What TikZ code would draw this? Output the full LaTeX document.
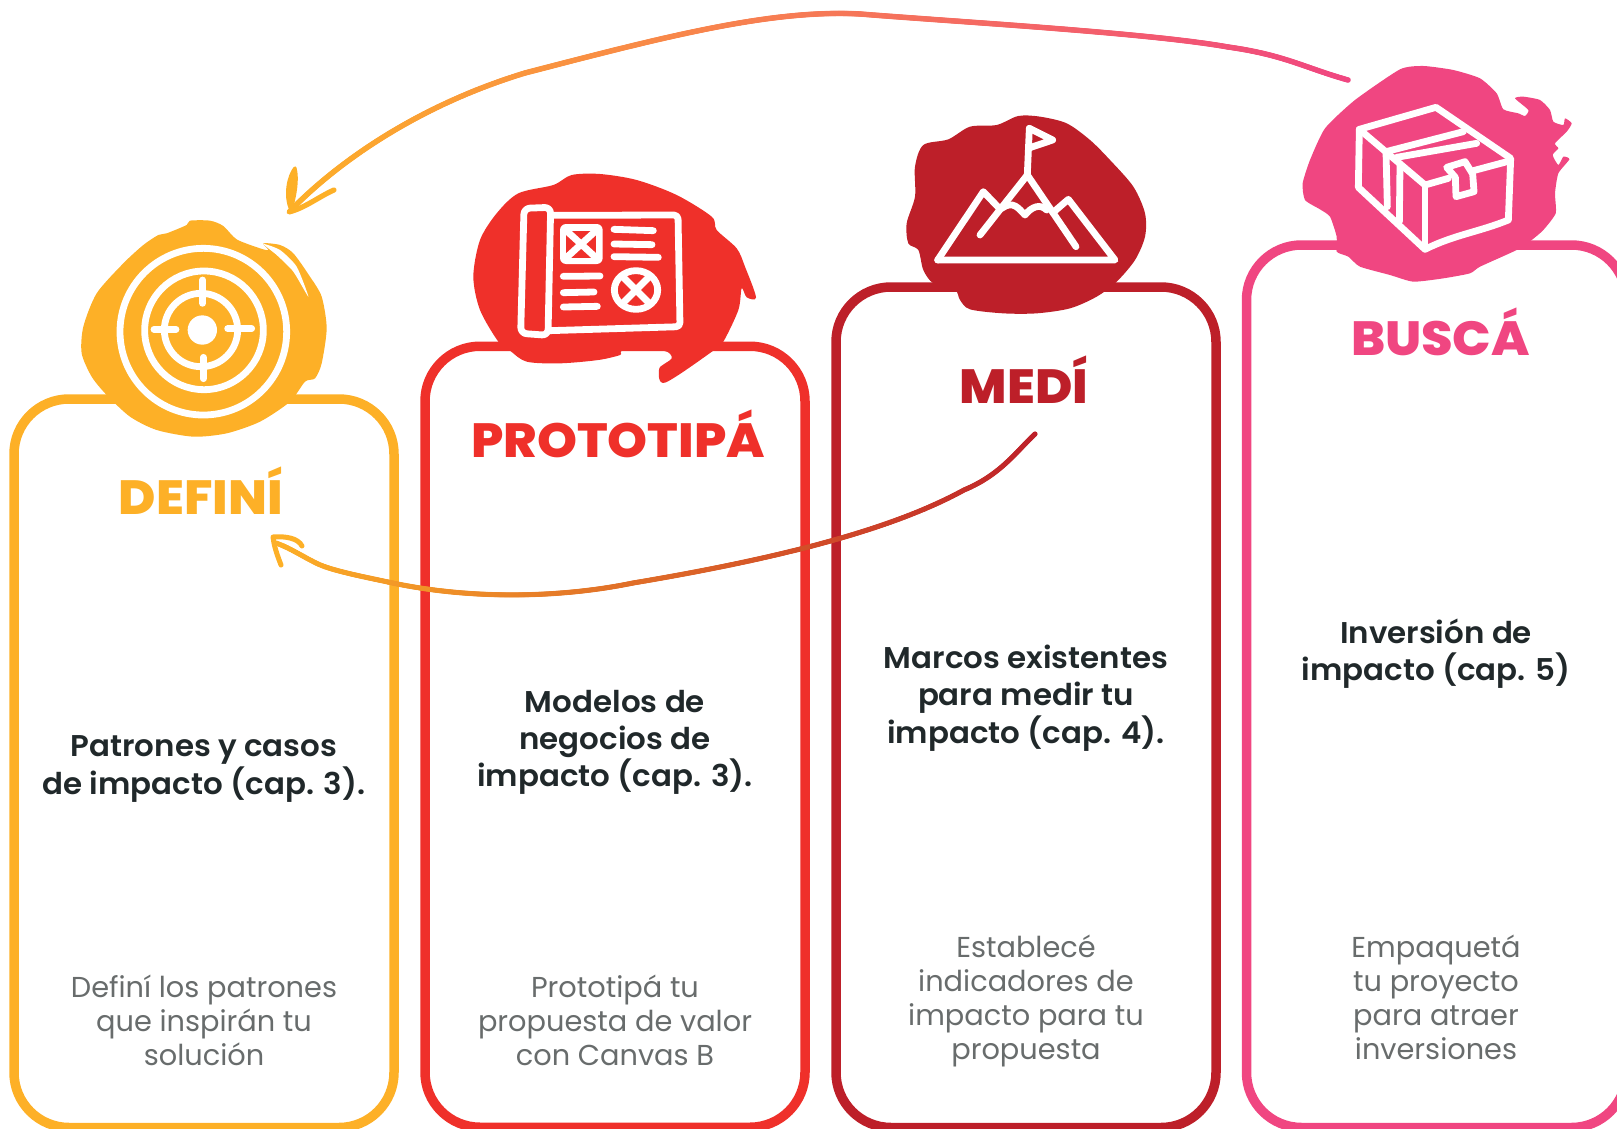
\documentclass[tikz,border=0pt]{standalone}
\usepackage{fontspec}
\setmainfont{Poppins}[BoldFont={Poppins SemiBold},BoldFeatures={FakeStretch=1.03}]
\newfontfamily\titlefont{Poppins ExtraBold}[FakeStretch=1.06]
\usepackage{xcolor}
\usetikzlibrary{positioning,decorations.markings}
\definecolor{cDefini}{HTML}{FDB027}
\definecolor{cProto}{HTML}{EF302A}
\definecolor{cMedi}{HTML}{BD1F29}
\definecolor{cBusca}{HTML}{F04681}
\definecolor{cLead}{HTML}{20282A}
\definecolor{cBody}{HTML}{686C6C}
\begin{document}
\begin{tikzpicture}[x=0.5pt,y=-0.5pt,line join=round,line cap=round,
	main box/.style={rectangle,rounded corners=27.5pt,draw=#1,line width=4.75pt,outer sep=0pt,inner sep=0pt,
		minimum width=190pt},
	title/.style={inner sep=0pt,text=#1,text height=20pt,text depth=0pt,font=\titlefont\fontsize{24}{24}\selectfont},
	lead/.style={inner sep=0pt,align=center,text=cLead,font=\bfseries\fontsize{15}{18.6}\selectfont},
	body/.style={inner sep=0pt,align=center,text=cBody,font=\fontsize{14.4}{17}\selectfont},
	icon/.style={draw=white,line width=3.4pt,fill=none},
	grad arrow/.style n args={3}{decoration={markings,mark=between positions 0 and 1 step 0.5pt with {
		\pgfmathsetmacro\mixval{100*(\pgfkeysvalueof{/pgf/decoration/mark info/distance from start}/\pgfdecoratedpathlength)}
		\fill[#2!\mixval!#1] (0,0) circle (#3);}},postaction={decorate}},
	head/.style={draw=#1,fill=#1,line width=1.6pt}]

	\useasboundingbox (0,0) rectangle (1617,1129);

	% the four boxes
	\node[main box=cDefini,minimum height=364.25pt] (BoxD) at (204,763.25) {};
	\node[main box=cProto,minimum height=390.5pt] (BoxP) at (615,736.75) {};
	\node[main box=cMedi,minimum height=420.25pt] (BoxM) at (1026,707.25) {};
	\node[main box=cBusca,minimum height=441.25pt] (BoxB) at (1436.5,686.25) {};

	% blob and target
	\begin{scope}[shift={(60,150)},x=0.16667pt,y=-0.16667pt]
	\fill[cDefini] plot[smooth cycle,tension=.45] coordinates {(390,212)(450,212)(490,228)(530,268)(600,295)(625,300)(610,280)(660,285)(700,310)(750,380)(785,440)(800,535)(785,640)(765,685)(735,695)(690,755)(600,815)(500,850)(400,860)(290,840)(210,800)(140,735)(95,680)(65,610)(70,530)(110,430)(190,340)(250,285)(295,255)(320,250)(380,225)};
	\fill[white] plot[smooth cycle,tension=.4] coordinates {(610,282)(660,300)(710,350)(745,440)(700,365)(650,315)};
	\draw[icon] (430,545) circle (250);
	\draw[icon] (432,541) circle (178);
	\draw[icon] (423,540) circle (110);
	\fill[white] (427,540) circle (44);
	\draw[icon] (428,390) -- (428,460);
	\draw[icon] (430,622) -- (430,686);
	\draw[icon] (282,538) -- (348,538);
	\draw[icon] (503,536) -- (575,536);
	\end{scope}

	% blob and map
	\begin{scope}[shift={(450,160)},x=0.16667pt,y=-0.16667pt]
	\fill[cProto] plot[smooth cycle,tension=.5] coordinates {(365,45)(450,42)(560,60)(680,105)(785,170)(800,210)(860,265)(885,320)(918,412)(890,412)(875,385)(865,450)(820,545)(790,572)(645,668)(628,625)(665,595)(640,572)(520,572)(510,585)(445,600)(330,610)(230,605)(180,572)(145,545)(90,450)(70,350)(90,240)(140,160)(205,100)(310,75)};
	\draw[icon,rounded corners=3pt] (222,145) -- (302,142) -- (294,526) -- (212,520) -- cycle;
	\draw[icon,rounded corners=2pt] (305,166) -- (684,165) -- (690,500) -- (298,512);
	\fill[white,rounded corners=3pt] (330,192) rectangle (458,312);
	\fill[cProto] (349,212) rectangle (438,293);
	\draw[icon] (349,212) -- (438,293) (438,212) -- (349,293);
	\draw[icon] (492,208) -- (610,212) (492,252) -- (606,254) (492,290) -- (625,292);
	\draw[icon] (340,349) -- (450,348) (340,398) -- (432,396) (340,441) -- (442,439);
	\draw[icon] (558,390) ellipse (65 and 58);
	\draw[icon] (520,352) -- (596,428) (596,352) -- (520,428);
	\end{scope}

	% blob and mountain
	\begin{scope}[shift={(890,100)},x=0.16667pt,y=-0.16667pt]
	\fill[cMedi] plot[smooth cycle,tension=.5] coordinates {(385,48)(450,50)(530,70)(600,120)(660,180)(730,260)(765,340)(765,410)(735,480)(680,545)(620,590)(540,625)(440,640)(340,640)(240,628)(210,600)(195,570)(130,550)(100,510)(85,450)(55,430)(50,370)(75,290)(75,200)(100,135)(175,118)(240,80)(320,75)};
	\draw[icon] (418,85) -- (412,222);
	\draw[icon] (418,85) -- (488,120) -- (420,143);
	\draw[icon] (143,480) -- (675,480) -- (535,298) -- (492,335);
	\draw[icon] (143,480) -- (280,275) -- (328,325);
	\draw[icon] (412,225) -- (558,440);
	\draw[icon] (412,225) -- (325,335) -- (270,405);
	\draw[icon] (335,325) .. controls (370,300) and (385,325) .. (405,345) .. controls (425,320) and (450,310) .. (470,330);
	\end{scope}

	% blob and parcel
	\begin{scope}[shift={(1280,50)},x=0.16667pt,y=-0.16667pt]
	\fill[cBusca] plot[smooth cycle,tension=.35] coordinates {(360,58)(430,48)(520,60)(600,85)(650,130)(670,178)(715,190)(735,198)(745,180)(705,145)(730,140)(780,150)(810,180)(820,215)(850,225)(855,205)(875,220)(860,245)(825,280)(835,295)(818,315)(835,345)(850,320)(868,328)(835,370)(825,430)(827,490)(790,540)(755,570)(710,600)(600,650)(570,670)(490,685)(400,695)(330,675)(240,650)(205,620)(170,605)(170,560)(150,500)(120,478)(75,450)(68,400)(90,330)(135,235)(225,150)};
	\draw[icon] (238,238) -- (468,172) -- (692,325) -- (685,510) .. controls (600,545) and (520,555) .. (435,598) -- (235,412) -- cycle;
	\draw[icon] (238,238) -- (435,405) -- (505,385);
	\draw[icon] (580,362) -- (692,332);
	\draw[icon] (435,405) -- (435,590);
	\draw[icon] (318,305) -- (550,245);
	\draw[icon] (350,322) -- (590,280);
	\draw[icon] (318,305) -- (322,470);
	\draw[icon] (360,345) -- (358,515);
	\draw[icon] (500,352) -- (555,335) -- (578,372) -- (582,425) -- (528,440) -- (526,382) -- cycle;
	\end{scope}

	\node[title=cDefini] (TitleD) [below = 37.75pt of BoxD.north,xshift=-1.5pt] {DEFINÍ};
	\node[title=cProto] (TitleP) [below = 35.25pt of BoxP.north,xshift=1.5pt] {PROTOTIPÁ};
	\node[title=cMedi] (TitleM) [below = 38pt of BoxM.north,xshift=-1pt] {MEDÍ};
	\node[title=cBusca] (TitleB) [below = 35.25pt of BoxB.north,xshift=2pt] {BUSCÁ};

	\node[lead] (LeadD) at (204,769) {Patrones y casos\\de impacto (cap. 3).};
	\node[lead] (LeadP) at (615,742.5) {Modelos de\\negocios de\\impacto (cap. 3).};
	\node[lead] (LeadM) at (1026,698) {Marcos existentes\\para medir tu\\impacto (cap. 4).};
	\node[lead] (LeadB) at (1436,653.5) {Inversión de\\impacto (cap. 5)};

	\node[body] (BodyD) at (204,1020) {Definí los patrones\\que inspirán tu\\solución};
	\node[body] (BodyP) at (615,1020) {Prototipá tu\\propuesta de valor\\con Canvas B};
	\node[body] (BodyM) at (1026,1001) {Establecé\\indicadores de\\impacto para tu\\propuesta};
	\node[body] (BodyB) at (1436,997) {Empaquetá\\tu proyecto\\para atraer\\inversiones};

	% the two hand drawn arrows
	\coordinate (BuscaTail) at (1348,80);
	\coordinate (TargetTip) at (291,210);
	\coordinate (MediTail) at (1035,434);
	\coordinate (DefiniTip) at (276,543);

	\path[grad arrow={cBusca}{cDefini}{1.4pt}] (BuscaTail) .. controls (1305,68) and (1285,55) .. (1228,47)
		.. controls (1150,33) and (960,22) .. (860,14) .. controls (770,9) and (660,38) .. (525,73)
		.. controls (420,105) and (340,160) .. (TargetTip);
	\draw[head=cDefini] (TargetTip) .. controls (284,195) and (289,175) .. (295,168) .. controls (298,180) and (295,195) .. (TargetTip);
	\draw[head=cDefini,fill=none,line width=2.6pt] (TargetTip) -- (289,212) .. controls (305,208) and (320,196) .. (334,190);

	\path[grad arrow={cMedi}{cDefini}{1.3pt}] (MediTail) .. controls (1015,453) and (1000,475) .. (964,490)
		.. controls (900,525) and (800,555) .. (633,583) .. controls (560,598) and (470,600) .. (388,582)
		.. controls (355,575) and (330,570) .. (316,563) .. controls (300,555) and (290,548) .. (DefiniTip);
	\draw[head=cDefini,fill=none,line width=2.5pt] (281,565) .. controls (276,552) and (274,545) .. (273,537) .. controls (285,536) and (298,538) .. (302,546);

\end{tikzpicture}
\end{document}
